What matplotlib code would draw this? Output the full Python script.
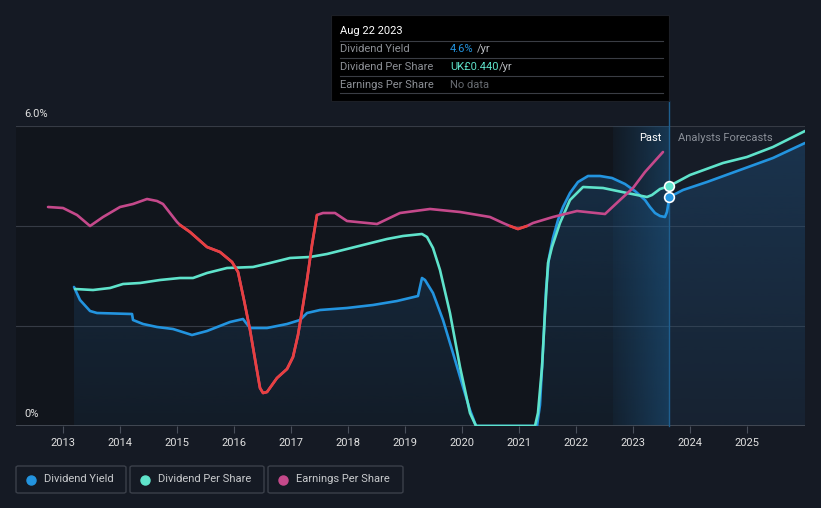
import numpy as np
import matplotlib.pyplot as plt
from matplotlib.patches import Rectangle, FancyBboxPatch, Polygon
from matplotlib.lines import Line2D

# --- DATA (decimal years, % on chart scale)
yield_x = [2013.193, 2013.298, 2013.474, 2013.596, 2014.211, 2014.228, 2014.404, 2014.649,
           2014.930, 2015.263, 2015.526, 2015.930, 2016.158, 2016.281, 2016.579, 2016.930,
           2017.158, 2017.281, 2017.509, 2017.982, 2018.439, 2018.860, 2019.228, 2019.298,
           2019.351, 2019.491, 2019.667, 2019.842, 2020.018, 2020.140, 2020.246, 2021.316,
           2021.368, 2021.421, 2021.474, 2021.526, 2021.596, 2021.684, 2021.772, 2021.895,
           2022.035, 2022.211, 2022.421, 2022.632, 2022.860, 2023.035, 2023.211, 2023.298,
           2023.386, 2023.474, 2023.561, 2023.596, 2023.640]
yield_y = [2.78, 2.52, 2.30, 2.26, 2.24, 2.12, 2.04, 1.98,
           1.94, 1.82, 1.90, 2.08, 2.14, 1.96, 1.96, 2.04,
           2.12, 2.26, 2.32, 2.36, 2.42, 2.50, 2.60, 2.96,
           2.92, 2.66, 2.12, 1.46, 0.78, 0.32, 0.0, 0.0,
           0.42, 1.52, 2.72, 3.36, 3.76, 4.12, 4.38, 4.66,
           4.88, 5.00, 5.00, 4.96, 4.84, 4.70, 4.52, 4.38,
           4.26, 4.20, 4.18, 4.28, 4.58]
yield_fc_x = [2023.640, 2023.877, 2024.298, 2024.877, 2025.456, 2026.018]
yield_fc_y = [4.58, 4.72, 4.88, 5.12, 5.36, 5.66]

dps_x = [2013.211, 2013.526, 2013.825, 2014.053, 2014.351, 2014.702, 2015.053, 2015.281,
         2015.526, 2015.877, 2016.333, 2016.632, 2016.982, 2017.333, 2017.632, 2017.982,
         2018.333, 2018.684, 2018.965, 2019.298, 2019.386, 2019.491, 2019.614, 2019.789,
         2019.965, 2020.140, 2020.246, 2021.281, 2021.333, 2021.404, 2021.456, 2021.509,
         2021.579, 2021.719, 2021.895, 2022.123, 2022.474, 2022.895, 2023.246, 2023.333,
         2023.474, 2023.640]
dps_y = [2.74, 2.72, 2.76, 2.84, 2.86, 2.92, 2.96, 2.96,
         3.06, 3.16, 3.18, 3.26, 3.36, 3.38, 3.44, 3.54,
         3.64, 3.74, 3.80, 3.84, 3.78, 3.56, 3.12, 2.26,
         1.18, 0.26, 0.0, 0.0, 0.26, 1.18, 2.26, 3.26,
         3.58, 4.06, 4.52, 4.78, 4.76, 4.66, 4.58, 4.62,
         4.74, 4.80]
dps_fc_x = [2023.640, 2024.000, 2024.579, 2025.000, 2025.456, 2026.018]
dps_fc_y = [4.80, 5.02, 5.26, 5.38, 5.58, 5.90]

eps_x = [2012.737, 2013.000, 2013.246, 2013.474, 2013.702, 2014.000, 2014.228, 2014.474,
         2014.649, 2014.754, 2015.000, 2015.053, 2015.228, 2015.526, 2015.754, 2015.965,
         2016.070, 2016.175, 2016.281, 2016.386, 2016.456, 2016.509, 2016.579, 2016.754,
         2016.930, 2017.035, 2017.123, 2017.211, 2017.281, 2017.368, 2017.456, 2017.561,
         2017.772, 2017.982, 2018.509, 2018.912, 2019.439, 2019.965, 2020.491, 2020.719,
         2020.842, 2020.982, 2021.140, 2021.246, 2021.596, 2022.018, 2022.509, 2022.772,
         2023.000, 2023.211, 2023.526]
eps_y = [4.38, 4.36, 4.22, 4.00, 4.18, 4.38, 4.44, 4.54,
         4.50, 4.44, 4.08, 4.02, 3.88, 3.58, 3.48, 3.28,
         3.08, 2.52, 1.92, 1.22, 0.76, 0.66, 0.68, 0.96,
         1.14, 1.38, 1.82, 2.42, 2.92, 3.62, 4.22, 4.26,
         4.26, 4.10, 4.04, 4.26, 4.34, 4.28, 4.18, 4.06,
         4.00, 3.94, 4.00, 4.06, 4.18, 4.30, 4.24, 4.52,
         4.76, 5.08, 5.48]
eps_red_spans = [(2015.05, 2017.46), (2020.84, 2021.15)]

years = list(range(2013, 2026))
y_ticks = [0, 2, 4, 6]
past_start = 2022.65
today = 2023.64

BLUE = '#2394df'
TEAL = '#5fe3cb'
PINK = '#c5498b'
RED = '#e8403f'

W, H = 821, 508
fig = plt.figure(figsize=(W / 100, H / 100), dpi=100, facecolor='#151a24')
plt.rcParams['font.family'] = ['Roboto', 'DejaVu Sans']

def fx(px):
    return px / W

def fy(py):
    return 1 - py / H

ax = fig.add_axes([fx(16), fy(426), 789 / W, 300 / H])
ax.set_facecolor('#11151c')
x0, x1 = 2012.175, 2026.018
ax.set_xlim(x0, x1)
ax.set_ylim(0, 6)

# forecast background + past band
ax.axvspan(today, x1, color='#161c27', zorder=0, lw=0)
band = np.linspace(0, 1, 256).reshape(1, -1)
grad_rgba = np.zeros((1, 256, 4))
grad_rgba[..., 0] = 0x1e / 255
grad_rgba[..., 1] = 0x5a / 255
grad_rgba[..., 2] = 0x8a / 255
grad_rgba[..., 3] = 0.08 + 0.42 * band
ax.imshow(grad_rgba, extent=[past_start, today, 0, 6], aspect='auto', zorder=3,
          interpolation='bicubic')

# gradient fill under dividend yield
fill_x = np.concatenate([yield_x, yield_fc_x[1:]])
fill_y = np.concatenate([yield_y, yield_fc_y[1:]])
poly = Polygon(np.column_stack([np.r_[fill_x, fill_x[-1], fill_x[0]],
                                np.r_[fill_y, 0, 0]]), closed=True,
               facecolor='none', edgecolor='none')
ax.add_patch(poly)
vert = np.linspace(1, 0, 256).reshape(-1, 1)
fill_rgba = np.zeros((256, 1, 4))
fill_rgba[..., 0] = 0x1f / 255
fill_rgba[..., 1] = 0x52 / 255
fill_rgba[..., 2] = 0x80 / 255
fill_rgba[..., 3] = 0.12 + 0.33 * vert
im = ax.imshow(fill_rgba, extent=[x0, x1, 0, 6], aspect='auto', zorder=2)
im.set_clip_path(poly)

# grid
for v in y_ticks[1:]:
    ax.axhline(v, color='#363b45', lw=0.8, zorder=1)
ax.axhline(0, color='#4a505b', lw=1.2, zorder=4)

# lines
lw = 1.9
style = dict(lw=lw, solid_capstyle='round', solid_joinstyle='round')
ax.plot(dps_x, dps_y, color=TEAL, zorder=6, **style)
ax.plot(dps_fc_x, dps_fc_y, color=TEAL, zorder=6, **style)
ax.plot(yield_x, yield_y, color=BLUE, zorder=5, **style)
ax.plot(yield_fc_x, yield_fc_y, color=BLUE, zorder=5, **style)

ex = np.array(eps_x)
ey = np.array(eps_y)
ax.plot(ex, ey, color=PINK, zorder=7, **style)
for a, b in eps_red_spans:
    m = (ex >= a) & (ex <= b)
    ax.plot(ex[m], ey[m], color=RED, zorder=7.5, **style)

# today line and markers
ax.plot([today, today], [0, 6.5], color='#1f5f8f', lw=1, zorder=4, clip_on=False)
ax.plot(today, yield_y[-1], 'o', ms=7, mfc=BLUE, mec='white', mew=1.2, zorder=9)
ax.plot(today, dps_y[-1], 'o', ms=7, mfc=TEAL, mec='white', mew=1.2, zorder=9)

# axes styling
for s in ax.spines.values():
    s.set_visible(False)
ax.set_yticks([])
ax.set_xticks(years)
ax.set_xticklabels([str(y) for y in years], color='#e0e0e0', fontsize=8)
ax.tick_params(axis='x', length=5, color='#4a505b', pad=4)

fig.text(fx(24), fy(114), '6.0%', color='#e0e0e0', fontsize=8, va='center')
fig.text(fx(24), fy(414), '0%', color='#e0e0e0', fontsize=8, va='center')
fig.text(fx(661), fy(138), 'Past', color='white', fontsize=8, va='center', ha='right')
fig.text(fx(678), fy(138), 'Analysts Forecasts', color='#8a8f98', fontsize=8, va='center')

# tooltip
fig.patches.append(Rectangle((fx(331), fy(101)), 338 / W, 86 / H, transform=fig.transFigure,
                             facecolor='black', edgecolor='#1c1f26', lw=0.8, zorder=10))
for ly in [41, 58, 76, 93]:
    fig.add_artist(Line2D([fx(340), fx(663)], [fy(ly), fy(ly)], color='#3a3d44', lw=0.8,
                          zorder=11))
fig.text(fx(340), fy(31), 'Aug 22 2023', color='white', fontsize=8, va='center', zorder=12)
rows = [('Dividend Yield', '4.6%', BLUE, ' /yr', 477),
        ('Dividend Per Share', 'UK£0.440', TEAL, ' /yr', 499),
        ('Earnings Per Share', 'No data', '#666a70', '', 0)]
for i, (lab, val, col, suf, sx) in enumerate(rows):
    yy = fy(49.5 + i * 17.5)
    fig.text(fx(340), yy, lab, color='#8d9096', fontsize=8, va='center', zorder=12)
    fig.text(fx(450), yy, val, color=col, fontsize=8, va='center', zorder=12)
    if suf:
        fig.text(fx(sx), yy, suf.strip(), color='#b8bbc0', fontsize=8, va='center', zorder=12)

# legend boxes
legend = [('Dividend Yield', BLUE, 16, 126), ('Dividend Per Share', TEAL, 130, 264),
          ('Earnings Per Share', PINK, 268, 403)]
for lab, col, l, r in legend:
    fig.patches.append(FancyBboxPatch((fx(l), fy(493)), (r - l) / W, 27 / H,
                                      boxstyle='round,pad=0,rounding_size=0.003',
                                      transform=fig.transFigure, facecolor='none',
                                      edgecolor='#3b404a', lw=1))
    fig.add_artist(Line2D([fx(l + 15)], [fy(479.5)], marker='o', ms=6.5, color=col,
                          mec=col, lw=0))
    fig.text(fx(l + 28), fy(479.5), lab, color='#c8cacd', fontsize=8, va='center')

fig.savefig('out.png', dpi=100, facecolor=fig.get_facecolor())
